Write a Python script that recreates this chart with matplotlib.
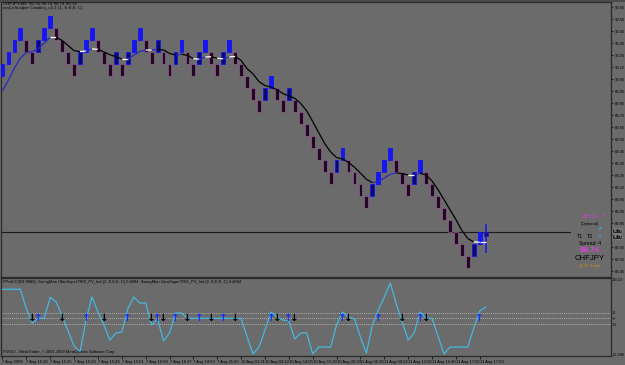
import numpy as np
import matplotlib
matplotlib.use("Agg")
import matplotlib.pyplot as plt
from matplotlib.collections import LineCollection
from matplotlib.transforms import blended_transform_factory

# ---------------- data ----------------
brick_size = 0.10
brick_dir = list("UUUUDDUUUD" "DDDUUUDDDU" "DUUUDDUDDU" "UDDUUDDUUD"
                 "DDDDUUDDUD" "DDDDDDUUDD" "DDUUUUDDDU" "UDDDDDDDDUU")
brick_close = [90.18, 90.28, 90.38, 90.48, 90.28, 90.18, 90.38, 90.48, 90.58, 90.38,
               90.28, 90.18, 90.08, 90.28, 90.38, 90.48, 90.28, 90.18, 90.08, 90.28,
               90.08, 90.28, 90.38, 90.48, 90.28, 90.18, 90.38, 90.18, 90.08, 90.28,
               90.38, 90.18, 90.08, 90.28, 90.38, 90.18, 90.08, 90.28, 90.38, 90.18,
               90.08, 89.98, 89.88, 89.78, 89.98, 90.08, 89.88, 89.78, 89.98, 89.78,
               89.68, 89.58, 89.48, 89.38, 89.28, 89.18, 89.38, 89.48, 89.28, 89.18,
               89.08, 88.98, 89.18, 89.28, 89.38, 89.48, 89.28, 89.18, 89.08, 89.28,
               89.38, 89.18, 89.08, 88.98, 88.88, 88.78, 88.68, 88.58, 88.48, 88.68,
               88.78]
# current (forming) candle
cur_open, cur_close, cur_high, cur_low = 88.78, 88.74, 88.84, 88.60

ma_values = [89.953, 90.044, 90.144, 90.228, 90.273, 90.280, 90.305, 90.353, 90.400, 90.400,
             90.373, 90.331, 90.288, 90.281, 90.286, 90.303, 90.300, 90.278, 90.255, 90.238,
             90.219, 90.219, 90.251, 90.282, 90.293, 90.294, 90.300, 90.294, 90.265, 90.253,
             90.259, 90.249, 90.222, 90.217, 90.236, 90.238, 90.225, 90.221, 90.236, 90.240,
             90.207, 90.138, 90.095, 90.030, 89.998, 89.985, 89.963, 89.932, 89.911, 89.892,
             89.848, 89.786, 89.698, 89.606, 89.515, 89.445, 89.398, 89.386, 89.357, 89.317,
             89.268, 89.217, 89.189, 89.196, 89.228, 89.258, 89.270, 89.264, 89.253, 89.253,
             89.267, 89.253, 89.203, 89.131, 89.048, 88.964, 88.882, 88.790, 88.723, 88.695,
             88.692, 88.692]

osc_values = [75.7, 75.7, 75.7, 75.7, 24.3, -12.3, 0, 0, 54.8, 42.6,
              6, -33.2, -72.3, -88, -4.4, 55.6, 16.4, -17.5, -56.7, -38.4,
              -35.8, 24.3, 55.6, 40, 40, -17.5, -1.8, -59.3, -38.4, 13.8,
              13.8, 0, 0, 0, 0, 0, 0, 0, 0, 0,
              0, -48.8, -93.2, -75, -30.5, 16.4, 3.4, -4.4, -7, -54,
              -38.4, -38.4, -93.2, -75, -75, -75, -17.5, 16.4, 3.4, -1.8,
              -48.8, -90.6, -17.5, 21.7, 55.6, 92.2, 37.3, -9.7, -56.7, -38.4,
              16.4, 0, 0, -46.2, -93.2, -75, -75, -75, -75, -25.3,
              18.9, 29.5]
osc_levels = [15, 0, -15]
arrow_down_idx = [5, 10, 17, 25, 27, 31, 35, 39, 46, 49, 58, 67, 71]
arrow_up_idx = [6, 14, 21, 26, 29, 33, 37, 45, 48, 57, 63, 70, 80]

price_ticks = [90.65, 90.55, 90.45, 90.35, 90.25, 90.15, 90.05, 89.95, 89.85, 89.75,
               89.65, 89.55, 89.45, 89.35, 89.25, 89.15, 89.05, 88.95, 88.85, 88.75,
               88.65, 88.55, 88.45]
# the 88.75 label is hidden behind the price boxes in the original
price_tick_labels = ["90.65", "90.55", "90.45", "90.35", "90.25", "90.15", "90.05", "89.95",
                     "89.85", "89.75", "89.65", "89.55", "89.45", "89.35", "89.25", "89.15",
                     "89.05", "88.95", "88.85", "", "88.65", "88.55", "88.45"]
bid_price, ask_label_price = 88.78, 88.74
osc_ticks = [100.113, 15, 0, -15, -95.2048]
osc_tick_labels = ["100.113", "15", "0", "-15", "-95.2048"]

time_tick_idx = [0, 4, 8, 12, 16, 20, 24, 28, 32, 36, 40, 44, 48, 52, 56, 60, 64, 68, 72, 76, 80]
time_tick_labels = ["7 Aug 2009", "7 Aug 15:20", "7 Aug 15:25", "7 Aug 15:29", "7 Aug 15:43",
                    "7 Aug 15:51", "7 Aug 16:09", "7 Aug 16:37", "7 Aug 19:00", "7 Aug 21:00",
                    "10 Aug 01:21", "10 Aug 04:12", "10 Aug 14:05", "10 Aug 15:40",
                    "10 Aug 20:20", "11 Aug 05:26", "11 Aug 09:22", "11 Aug 12:56",
                    "11 Aug 16:40", "11 Aug 17:02", "11 Aug 17:03"]

# ---------------- style ----------------
W, H = 625, 365
BG = "#6b6b6b"
FRAME = "#2a2a2a"
UP = "#1414f5"
UP_FIRST = "#0a0a6e"
DN_FILL = "#1e0a1e"
DN_EDGE = "#9a5a9a"
CYAN = "#45b8e0"
FONT = "Liberation Sans"

plt.rcParams['font.family'] = [FONT, 'DejaVu Sans']

fig = plt.figure(figsize=(W / 100, H / 100), dpi=100, facecolor=BG)


def fx(px):
    return px / W


def fy(py):
    return 1 - py / H


XL, XR = -0.25, 102.0

# ---------- main price window ----------
ax = fig.add_axes([fx(1), fy(277), fx(611) - fx(1), fy(2) - fy(277)])
ax.set_facecolor(BG)
ax.set_xlim(XL, XR)
ax.set_ylim(88.4025, 90.694)

n = len(brick_close)
idx = np.arange(n)
close = np.array(brick_close)
is_up = np.array([d == "U" for d in brick_dir])
opn = np.where(is_up, close - brick_size, close + brick_size)
first_up = np.array([is_up[i] and (i > 0 and not is_up[i - 1]) for i in range(n)])

bw = 0.64
for i in range(n):
    lo, hi = min(opn[i], close[i]), max(opn[i], close[i])
    if is_up[i]:
        fc = UP_FIRST if first_up[i] else UP
        ax.bar(idx[i], hi - lo, bottom=lo, width=bw, color=fc, edgecolor=UP,
               linewidth=0.6, zorder=3)
    else:
        ax.bar(idx[i], hi - lo, bottom=lo, width=bw, color=DN_FILL, edgecolor=DN_EDGE,
               linewidth=0.5, zorder=3)

# current forming candle
ci = n
ax.vlines(ci, cur_low, cur_high, color=UP, linewidth=1.1, zorder=3)
ax.bar(ci, cur_open - cur_close, bottom=cur_close, width=bw, color="#2a1050",
       edgecolor=UP, linewidth=0.5, zorder=4)

# moving average line, coloured by slope
ma = np.array(ma_values)
mx = np.arange(len(ma))
segs, cols = [], []
for i in range(len(ma) - 1):
    d = ma[i + 1] - ma[i]
    segs.append([(mx[i], ma[i]), (mx[i + 1], ma[i + 1])])
    if d > 0.006:
        cols.append("#2828c8")
    elif d < -0.006:
        cols.append("#000000")
    else:
        cols.append("#ffffff")
ax.add_collection(LineCollection(segs, colors=cols, linewidths=0.9, zorder=5))

# bid line
ax.axhline(bid_price, xmin=0, xmax=(570 - 1) / 610, color="#1a1a1a", linewidth=0.8, zorder=2)

ax.set_xticks([])
ax.yaxis.tick_right()
ax.set_yticks(price_ticks)
ax.set_yticklabels(price_tick_labels)
ax.tick_params(axis='y', direction='out', length=1.5, width=0.5, colors="#000000",
               labelsize=3.0, pad=1)
for s in ax.spines.values():
    s.set_color(FRAME)
    s.set_linewidth(0.9)

trb = blended_transform_factory(ax.transAxes, ax.transData)
for pv, lab in [(bid_price + 0.004, "88.78"), (ask_label_price - 0.004, "88.74")]:
    ax.text(1.004, pv, lab, transform=trb, ha='left', va='center', fontsize=2.4,
            color="white", bbox=dict(boxstyle="square,pad=0.08", fc="black", ec="#bbbbbb",
                                     lw=0.3), zorder=10, clip_on=False)

# header texts
fig.text(fx(3), fy(4.0), "CHFJPY,M5  90.76 90.74 90.74 90.74", fontsize=3.2,
         color="black", va='center', ha='left')
fig.text(fx(3), fy(8.5), "xmCnScalper Candles_v3.1 (1, E,E,E, C)", fontsize=3.2,
         color="black", va='center', ha='left')

# right info panel
fig.text(fx(590), fy(216.5), "88.83", fontsize=4.2, color="#d040d0", ha='center',
         va='center')
fig.text(fx(602), fy(216.5), "\u2197", fontsize=4.5, color="#d040d0", ha='center',
         va='center', family='DejaVu Sans')
fig.text(fx(590), fy(223.5), "(Optional)", fontsize=3.0, color="black", ha='center',
         va='center')
fig.text(fx(598.5), fy(229.5), "\u2197", fontsize=4.5, color="#30b0e8", ha='center',
         va='center', family='DejaVu Sans', fontweight='bold')
fig.text(fx(580), fy(236.5), "T1", fontsize=3.8, color="black", ha='center', va='center')
fig.text(fx(590), fy(236.5), "T2", fontsize=3.8, color="black", ha='center', va='center')
fig.text(fx(599.5), fy(236.5), "V", fontsize=3.8, color="#30b0e8", ha='center', va='center')
fig.text(fx(590), fy(243.5), "Spread: 4", fontsize=3.6, color="black", ha='center',
         va='center')
fig.text(fx(590), fy(250.5), "88.74", fontsize=5.8, color="#e040e0", ha='center',
         va='center', fontweight='bold')
fig.text(fx(590), fy(258.5), "CHFJPY", fontsize=5.6, color="black", ha='center',
         va='center')
fig.text(fx(590), fy(265.5), "@ Dr.Trade", fontsize=3.0, color="#c89020", ha='center',
         va='center')

# ---------- oscillator sub window ----------
ax2 = fig.add_axes([fx(1), fy(356), fx(611) - fx(1), fy(278) - fy(356)])
ax2.set_facecolor(BG)
ax2.set_xlim(XL, XR)
ax2.set_ylim(-98.4, 105.2)
for lv in osc_levels:
    ax2.axhline(lv, color="#c8c8c8", linewidth=0.5, linestyle=(0, (1.5, 1.5)), zorder=1)
ax2.plot(np.arange(len(osc_values)), osc_values, color=CYAN, linewidth=0.9, zorder=3)
for i in arrow_down_idx:
    ax2.text(i, 0, "\u2193", ha='center', va='center', fontsize=7.5, color="black",
             fontweight='bold', family='DejaVu Sans', zorder=5)
for i in arrow_up_idx:
    ax2.text(i, 0, "\u2191", ha='center', va='center', fontsize=7.5, color="#1030ff",
             fontweight='bold', family='DejaVu Sans', zorder=5)

ax2.yaxis.tick_right()
ax2.set_yticks(osc_ticks)
ax2.set_yticklabels(osc_tick_labels)
ax2.tick_params(axis='y', direction='out', length=1.0, width=0.5, colors="#000000",
                labelsize=2.2, pad=0.5)
ax2.set_xticks(time_tick_idx)
ax2.set_xticklabels(time_tick_labels, ha='left')
ax2.tick_params(axis='x', direction='out', length=2, width=0.5, colors="#000000",
                labelsize=3.0, pad=0.6)
for s in ax2.spines.values():
    s.set_color(FRAME)
    s.set_linewidth(0.9)

fig.text(fx(3), fy(282), "FPrbCCI(59.9886)  SwingMan UltraSuperTRIX_PV_Ind (2, E,E,E, C) 0.4894  "
         "SwingMan UltraSuperTRIX_PV_Ind (2, E,E,E, C) 0.4894", fontsize=2.9, color="black",
         ha='left', va='center')
fig.text(fx(3), fy(352), "PIXDO - MetaTrader, \u00a9 2001-2009 MetaQuotes Software Corp.",
         fontsize=2.9, color="black", ha='left', va='center')

# top dark band
fig.patches.append(plt.Rectangle((0, fy(1.5)), 1, 1 - fy(1.5), transform=fig.transFigure,
                                 facecolor="#4a4a4a", edgecolor='none', zorder=0))

fig.savefig("out.png", dpi=100, facecolor=BG)
